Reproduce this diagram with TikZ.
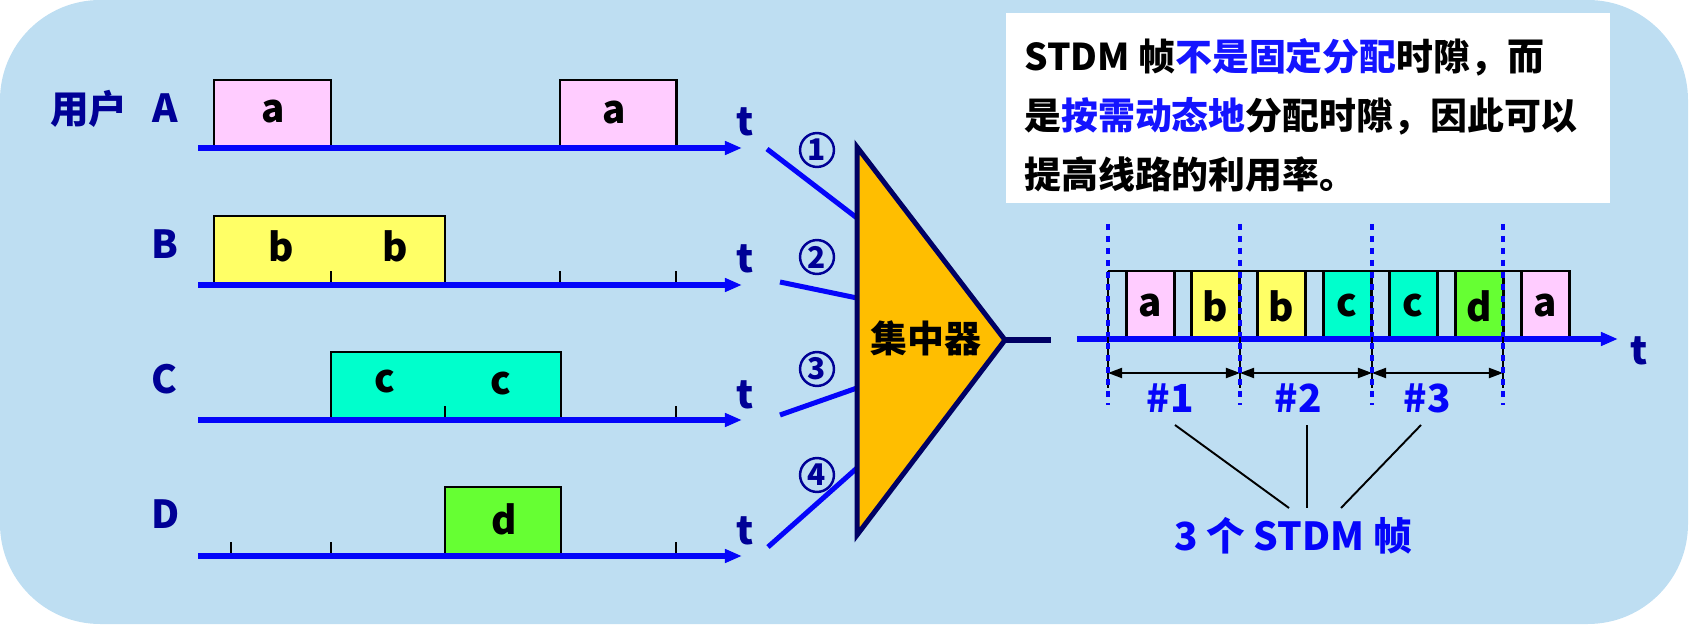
\documentclass[tikz,border=0pt]{standalone}
\usepackage{fontspec}
\setmainfont{Noto Sans CJK SC}
\usetikzlibrary{arrows.meta}

\definecolor{bgblue}{RGB}{190,222,242}
\definecolor{lineblue}{RGB}{5,5,250}
\definecolor{navy}{RGB}{0,0,150}
\definecolor{darknavy}{RGB}{0,0,100}
\definecolor{concorange}{RGB}{255,190,0}
\definecolor{slotpink}{RGB}{255,204,255}
\definecolor{slotyellow}{RGB}{255,255,102}
\definecolor{slotcyan}{RGB}{0,255,204}
\definecolor{slotgreen}{RGB}{102,255,51}
\definecolor{textblue}{RGB}{20,20,255}

\tikzset{
  axis/.style={lineblue, line width=2.85pt, -{Triangle[length=9.7pt,width=7.4pt]}},
  slotbox/.style={draw=black, line width=1.7pt},
  tickmark/.style={black, line width=0.85pt},
  thinline/.style={black, line width=1.1pt},
  userlbl/.style={navy, inner sep=0pt, font=\fontsize{22pt}{26pt}\selectfont\bfseries},
  slotlbl/.style={black, inner sep=0pt, font=\fontsize{22pt}{26pt}\selectfont\bfseries},
  circnum/.style={circle, draw=navy, text=navy, line width=1.4pt, minimum size=19.3pt, inner sep=0pt,
    font=\fontsize{17pt}{20pt}\selectfont\bfseries},
  dashline/.style={lineblue, line width=2.3pt, dash pattern=on 3.4pt off 3.4pt},
  dblarrow/.style={thinline, {Triangle[length=8pt,width=5.7pt]}-{Triangle[length=8pt,width=5.7pt]}},
}

\begin{document}
\begin{tikzpicture}[x=0.02cm, y=-0.02cm]
    \useasboundingbox (0,0) rectangle (1691,628);
    % 背景
    \fill[bgblue, rounded corners=57pt] (0,0) rectangle (1688,624);

    % 用户 A B C D
    \node[userlbl] (user) at (89,109) {用户};
    \node[userlbl] (labA) at (165,108) {A};
    \node[userlbl] (labB) at (165,244) {B};
    \node[userlbl] (labC) at (164,379) {C};
    \node[userlbl] (labD) at (166,514) {D};

    % 各用户的时隙
    \filldraw[slotbox, fill=slotpink] (214,148) rectangle (331,80);
    \filldraw[slotbox, fill=slotpink] (560,148) rectangle (676,80);
    \filldraw[slotbox, fill=slotyellow] (214,285) rectangle (445,216);
    \filldraw[slotbox, fill=slotcyan] (331,420) rectangle (561,352);
    \filldraw[slotbox, fill=slotgreen] (445,556) rectangle (561,487);
    \node[slotlbl] (a1) at (273,112) {a};
    \node[slotlbl] (a2) at (614,113) {a};
    \node[slotlbl] (b1) at (281,246) {b};
    \node[slotlbl] (b2) at (395,246) {b};
    \node[slotlbl] (c1) at (385,382) {c};
    \node[slotlbl] (c2) at (501,384) {c};
    \node[slotlbl] (d1) at (504,519) {d};

    % 刻度
    \foreach \x in {331,560,676} \draw[tickmark] (\x,285) -- (\x,271);
    \foreach \x in {445,676} \draw[tickmark] (\x,420) -- (\x,406);
    \foreach \x in {231,331,676} \draw[tickmark] (\x,556) -- (\x,542);

    % 时间轴
    \coordinate (sA) at (198,148); \coordinate (eA) at (742,148);
    \coordinate (sB) at (198,285); \coordinate (eB) at (742,285);
    \coordinate (sC) at (198,420); \coordinate (eC) at (742,420);
    \coordinate (sD) at (198,556); \coordinate (eD) at (742,556);
    \draw[axis] (sA) -- (eA);
    \draw[axis] (sB) -- (eB);
    \draw[axis] (sC) -- (eC);
    \draw[axis] (sD) -- (eD);
    \node[userlbl] (tA) at (745,122) {t};
    \node[userlbl] (tB) at (745,259) {t};
    \node[userlbl] (tC) at (745,395) {t};
    \node[userlbl] (tD) at (745,531) {t};

    % 输入线路 1-4
    \coordinate (in1) at (767,149); \coordinate (e1) at (857,218);
    \coordinate (in2) at (780,282); \coordinate (e2) at (857,298);
    \coordinate (in3) at (780,415); \coordinate (e3) at (857,388);
    \coordinate (in4) at (768,547); \coordinate (e4) at (857,468);
    \draw[lineblue, line width=2.85pt] (in1) -- (e1);
    \draw[lineblue, line width=2.85pt] (in2) -- (e2);
    \draw[lineblue, line width=2.85pt] (in3) -- (e3);
    \draw[lineblue, line width=2.85pt] (in4) -- (e4);
    \node[circnum] (n1) at (817,150) {1};
    \node[circnum] (n2) at (817,257) {2};
    \node[circnum] (n3) at (817,369) {3};
    \node[circnum] (n4) at (817,475) {4};

    % 集中器
    \coordinate (tritop) at (857,147);
    \coordinate (tribot) at (857,535);
    \coordinate (triapex) at (1005,340);
    \filldraw[fill=concorange, draw=darknavy, line width=2.85pt] (tritop) -- (triapex) -- (tribot) -- cycle;
    \node[slotlbl, font=\fontsize{21pt}{24pt}\selectfont\bfseries] (conc) at (926,338) {集中器};
    \coordinate (outend) at (1051,340);
    \draw[darknavy, line width=3.4pt] (triapex) -- (outend);

    % 说明框
    \node[fill=white, minimum width=343.7pt, minimum height=108pt] (note) at (1308,108) {};
    \node[anchor=west, align=left, inner sep=0pt, font=\fontsize{21pt}{33.6pt}\selectfont\bfseries] (notetxt) at (1024,115)
      {STDM 帧{\color{textblue}不是固定分配}时隙，而\\
       是{\color{textblue}按需动态地}分配时隙，因此可以\\
       提高线路的利用率。};

    % STDM 帧
    \coordinate (sR) at (1077,339); \coordinate (eR) at (1618,339);
    \draw[thinline] (1108,271) -- (1570,271);
    \foreach \x/\c/\l [count=\i] in {1126/slotpink/a, 1191/slotyellow/b, 1257/slotyellow/b,
        1323/slotcyan/c, 1389/slotcyan/c, 1455/slotgreen/d, 1521/slotpink/a} {
      \filldraw[slotbox, fill=\c] (\x,339) rectangle ++(48,-68);
      \node[slotlbl] (r\i) at (\x+24,306) {\l};
    }
    \draw[axis] (sR) -- (eR);
    \node[userlbl] (tR) at (1639,351) {t};
    \foreach \x in {1108,1240,1372,1503} \draw[thinline] (\x,271) -- (\x,388);
    \coordinate (f1) at (1108,373); \coordinate (f2) at (1240,373);
    \coordinate (f3) at (1372,373); \coordinate (f4) at (1503,373);
    \draw[dblarrow] (f1) -- (f2);
    \draw[dblarrow] (f2) -- (f3);
    \draw[dblarrow] (f3) -- (f4);
    \foreach \x in {1108,1240,1372,1503} \draw[dashline] (\x,224) -- (\x,405);

    % #1 #2 #3
    \node[userlbl, lineblue] (h1) at (1170,398) {\#1};
    \node[userlbl, lineblue] (h2) at (1298,398) {\#2};
    \node[userlbl, lineblue] (h3) at (1427,398) {\#3};
    \node[userlbl, lineblue] (frames) at (1293,536) {3 个 STDM 帧};
    \coordinate (g1) at (1175,425); \coordinate (k1) at (1289,508);
    \coordinate (g2) at (1307,425); \coordinate (k2) at (1307,508);
    \coordinate (g3) at (1421,425); \coordinate (k3) at (1341,508);
    \draw[thinline] (g1) -- (k1);
    \draw[thinline] (g2) -- (k2);
    \draw[thinline] (g3) -- (k3);
\end{tikzpicture}
\end{document}
